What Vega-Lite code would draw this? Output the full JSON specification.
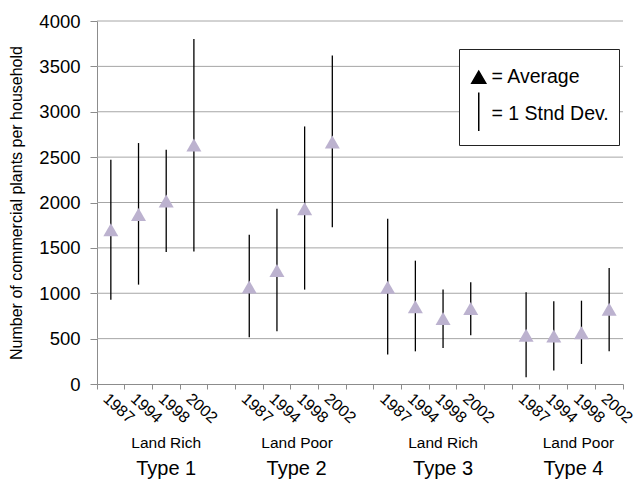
{
  "$schema": "https://vega.github.io/schema/vega-lite/v6.json",
  "width": 526,
  "height": 363,
  "autosize": {"type": "none"},
  "padding": {"left": 97, "top": 21, "right": 15, "bottom": 95},
  "background": "white",
  "config": {
    "font": "Liberation Sans",
    "view": {"stroke": null},
    "axis": {"labelColor": "black", "titleColor": "black", "labelFont": "Liberation Sans", "titleFont": "Liberation Sans"},
    "axisY": {"format": "d", "tickSize": 7, "tickColor": "#8c8c8c", "domainColor": "#8c8c8c", "labelFontSize": 18.5, "labelPadding": 10}
  },
  "data": {
    "values": [
      {"cat": "Type 1 1987", "type": "Type 1", "group": "Land Rich", "year": "1987", "mean": 1700, "low": 929, "high": 2471},
      {"cat": "Type 1 1994", "type": "Type 1", "group": "Land Rich", "year": "1994", "mean": 1869, "low": 1095, "high": 2655},
      {"cat": "Type 1 1998", "type": "Type 1", "group": "Land Rich", "year": "1998", "mean": 2016, "low": 1455, "high": 2581},
      {"cat": "Type 1 2002", "type": "Type 1", "group": "Land Rich", "year": "2002", "mean": 2634, "low": 1461, "high": 3801},
      {"cat": "Type 2 1987", "type": "Type 2", "group": "Land Poor", "year": "1987", "mean": 1069, "low": 514, "high": 1645},
      {"cat": "Type 2 1994", "type": "Type 2", "group": "Land Poor", "year": "1994", "mean": 1252, "low": 580, "high": 1932},
      {"cat": "Type 2 1998", "type": "Type 2", "group": "Land Poor", "year": "1998", "mean": 1930, "low": 1040, "high": 2838},
      {"cat": "Type 2 2002", "type": "Type 2", "group": "Land Poor", "year": "2002", "mean": 2667, "low": 1726, "high": 3620},
      {"cat": "Type 3 1987", "type": "Type 3", "group": "Land Rich", "year": "1987", "mean": 1067, "low": 324, "high": 1822},
      {"cat": "Type 3 1994", "type": "Type 3", "group": "Land Rich", "year": "1994", "mean": 852, "low": 360, "high": 1359},
      {"cat": "Type 3 1998", "type": "Type 3", "group": "Land Rich", "year": "1998", "mean": 722, "low": 397, "high": 1040},
      {"cat": "Type 3 2002", "type": "Type 3", "group": "Land Rich", "year": "2002", "mean": 832, "low": 536, "high": 1120},
      {"cat": "Type 4 1987", "type": "Type 4", "group": "Land Poor", "year": "1987", "mean": 538, "low": 74, "high": 1010},
      {"cat": "Type 4 1994", "type": "Type 4", "group": "Land Poor", "year": "1994", "mean": 530, "low": 148, "high": 911},
      {"cat": "Type 4 1998", "type": "Type 4", "group": "Land Poor", "year": "1998", "mean": 566, "low": 221, "high": 918},
      {"cat": "Type 4 2002", "type": "Type 4", "group": "Land Poor", "year": "2002", "mean": 823, "low": 360, "high": 1279}
    ]
  },
  "resolve": {"axis": {"x": "independent"}},
  "layer": [
    {
      "data": {"values": [{"gridValue": 500}, {"gridValue": 1000}, {"gridValue": 1500}, {"gridValue": 2000}, {"gridValue": 2500}, {"gridValue": 3000}, {"gridValue": 3500}, {"gridValue": 4000}]},
      "mark": {"type": "rule", "color": "#a6a6a6", "strokeWidth": 1},
      "encoding": {
        "y": {
          "field": "gridValue", "type": "quantitative",
          "scale": {"domain": [0, 4000], "nice": false, "zero": true},
          "axis": {"title": "Number of commercial plants per household", "titleFontSize": 16, "titleFontWeight": "normal", "titlePadding": 14,
            "values": [0, 500, 1000, 1500, 2000, 2500, 3000, 3500, 4000], "format": "d", "grid": false}
        }
      }
    },
    {
      "mark": {"type": "rule", "color": "black", "strokeWidth": 1.3},
      "encoding": {
        "x": {
          "field": "cat", "type": "nominal",
          "scale": {"type": "band", "paddingInner": 0, "paddingOuter": 0,
            "domain": ["Type 1 1987","Type 1 1994","Type 1 1998","Type 1 2002","gap1","Type 2 1987","Type 2 1994","Type 2 1998","Type 2 2002","gap2","Type 3 1987","Type 3 1994","Type 3 1998","Type 3 2002","gap3","Type 4 1987","Type 4 1994","Type 4 1998","Type 4 2002"]},
          "axis": {"orient": "bottom", "title": null, "labels": false, "ticks": true, "tickSize": 5, "tickColor": "#8c8c8c", "domainColor": "#8c8c8c", "bandPosition": 1, "tickExtra": true, "grid": false}
        },
        "y": {"field": "low", "type": "quantitative"},
        "y2": {"field": "high"}
      }
    },
    {
      "mark": {"type": "point", "shape": "triangle-up", "filled": true, "color": "#bcb2cf", "opacity": 1, "size": 225},
      "encoding": {
        "x": {
          "field": "cat", "type": "nominal",
          "scale": {"type": "band", "paddingInner": 0, "paddingOuter": 0,
            "domain": ["Type 1 1987","Type 1 1994","Type 1 1998","Type 1 2002","gap1","Type 2 1987","Type 2 1994","Type 2 1998","Type 2 2002","gap2","Type 3 1987","Type 3 1994","Type 3 1998","Type 3 2002","gap3","Type 4 1987","Type 4 1994","Type 4 1998","Type 4 2002"]},
          "axis": {"orient": "bottom", "title": null, "ticks": false, "tickSize": 0, "domain": false, "grid": false,
            "values": ["Type 1 1987","Type 1 1994","Type 1 1998","Type 1 2002","Type 2 1987","Type 2 1994","Type 2 1998","Type 2 2002","Type 3 1987","Type 3 1994","Type 3 1998","Type 3 2002","Type 4 1987","Type 4 1994","Type 4 1998","Type 4 2002"],
            "labelExpr": "slice(datum.value, -4)", "labelAngle": 42, "labelAlign": "left", "labelBaseline": "top", "labelPadding": 6, "labelFontSize": 16, "labelOverlap": false, "labelBound": false}
        },
        "y": {"field": "mean", "type": "quantitative"}
      }
    },
    {
      "transform": [{"filter": "false"}],
      "mark": {"type": "point", "filled": true, "color": "black", "stroke": "black", "strokeWidth": 1.5, "size": 196},
      "encoding": {
        "x": {
          "field": "cat", "type": "nominal",
          "scale": {"type": "band", "paddingInner": 0, "paddingOuter": 0,
            "domain": ["Type 1 1987","Type 1 1994","Type 1 1998","Type 1 2002","gap1","Type 2 1987","Type 2 1994","Type 2 1998","Type 2 2002","gap2","Type 3 1987","Type 3 1994","Type 3 1998","Type 3 2002","gap3","Type 4 1987","Type 4 1994","Type 4 1998","Type 4 2002"]},
          "axis": {"orient": "bottom", "title": null, "ticks": false, "tickSize": 0, "domain": false, "grid": false,
            "values": ["Type 1 1998", "Type 2 1998", "Type 3 1998", "Type 4 1998"],
            "labelExpr": "(slice(datum.value, 0, 6) === 'Type 1' || slice(datum.value, 0, 6) === 'Type 3') ? 'Land Rich' : 'Land Poor'",
            "labelOffset": {"condition": [{"test": "slice(datum.value, 0, 6) === 'Type 2'", "value": -7.5}, {"test": "slice(datum.value, 0, 6) === 'Type 4'", "value": -3}], "value": 0},
            "labelAngle": 0, "labelAlign": "center", "labelBaseline": "alphabetic", "labelPadding": 63, "labelFontSize": 15.5, "labelOverlap": false, "labelBound": false}
        },
        "y": {"field": "mean", "type": "quantitative"},
        "shape": {
          "datum": "= Average",
          "scale": {"domain": ["= Average", "= 1 Stnd Dev."], "range": ["triangle-up", "M0,-3.1L0,2.4"]},
          "legend": {
            "orient": "none", "legendX": 362, "legendY": 28,
            "title": " ", "titleFontSize": 8.5, "titlePadding": 0,
            "padding": 10, "strokeColor": "#222222", "fillColor": "white",
            "labelFontSize": 19.5, "labelColor": "black", "labelOffset": 3,
            "symbolSize": 196, "rowPadding": 2, "symbolStrokeWidth": 1.5, "symbolOpacity": 1
          }
        }
      }
    },
    {
      "mark": {"type": "point", "opacity": 0},
      "encoding": {
        "x": {
          "field": "cat", "type": "nominal",
          "scale": {"type": "band", "paddingInner": 0, "paddingOuter": 0,
            "domain": ["Type 1 1987","Type 1 1994","Type 1 1998","Type 1 2002","gap1","Type 2 1987","Type 2 1994","Type 2 1998","Type 2 2002","gap2","Type 3 1987","Type 3 1994","Type 3 1998","Type 3 2002","gap3","Type 4 1987","Type 4 1994","Type 4 1998","Type 4 2002"]},
          "axis": {"orient": "bottom", "title": null, "ticks": false, "tickSize": 0, "domain": false, "grid": false,
            "values": ["Type 1 1998", "Type 2 1998", "Type 3 1998", "Type 4 1998"],
            "labelExpr": "slice(datum.value, 0, 6)",
            "labelOffset": {"condition": {"test": "slice(datum.value, 0, 6) === 'Type 2' || slice(datum.value, 0, 6) === 'Type 4'", "value": -8}, "value": 0},
            "labelAngle": 0, "labelAlign": "center", "labelBaseline": "alphabetic", "labelPadding": 90, "labelFontSize": 20, "labelOverlap": false, "labelBound": false}
        },
        "y": {"field": "mean", "type": "quantitative"}
      }
    }
  ]
}
